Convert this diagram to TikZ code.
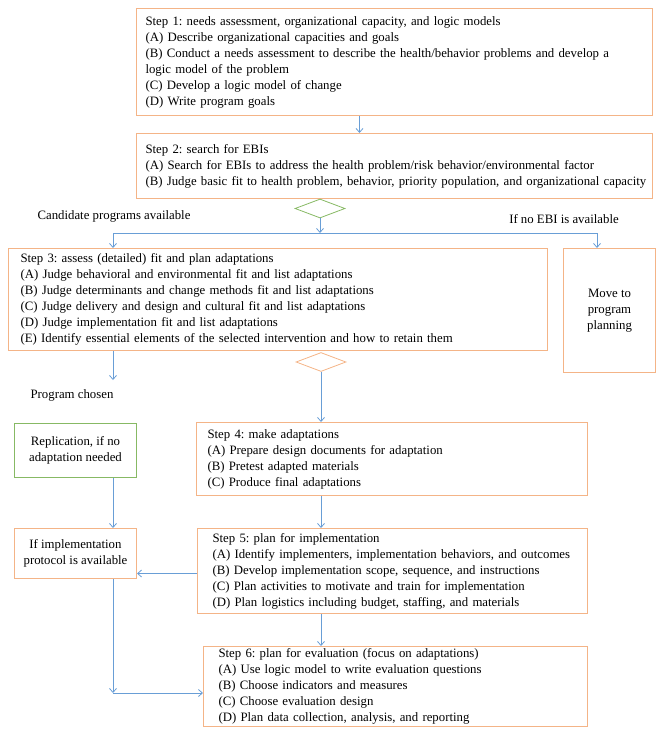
\documentclass[tikz,border=0pt]{standalone}
\usepackage{xcolor}
\usepackage{fontspec}
\setmainfont{Liberation Serif}
\frenchspacing
\usepackage{tikz}
\usetikzlibrary{shapes.geometric, arrows.meta, positioning}

\definecolor{boxorange}{RGB}{244,180,135}
\definecolor{boxgreen}{RGB}{135,185,100}
\definecolor{linkblue}{RGB}{105,158,214}

\begin{document}
\begin{tikzpicture}[x=1pt, y=-1pt,
            box/.style={draw=boxorange, line width=1pt, rectangle, anchor=north west, align=left, inner xsep=9pt, inner ysep=0pt, font=\fontsize{12.8}{16}\selectfont},
            sidebox/.style={draw=boxorange, line width=1pt, rectangle, anchor=north west, align=center, inner sep=0pt, font=\fontsize{12.8}{16}\selectfont},
            decision/.style={diamond, draw, line width=0.8pt, minimum width=50pt, minimum height=19pt, inner sep=0pt},
            note/.style={font=\fontsize{12.8}{16}\selectfont, inner sep=0pt},
            link/.style={draw=linkblue, line width=0.8pt},
            arrow/.style={link, -{Straight Barb[length=4pt, width=7pt]}}]

            \useasboundingbox (0,0) rectangle (661,735);

            \node[box, text width=498pt, minimum height=107pt] (step1) at (136,8) {Step 1: needs assessment, organizational capacity, and logic models\\(A) Describe organizational capacities and goals\\(B) Conduct a needs assessment to describe the health/behavior problems and develop a\\logic model of the problem\\(C) Develop a logic model of change\\(D) Write program goals};
            \node[box, text width=498pt, minimum height=65pt] (step2) at (136,133) {Step 2: search for EBIs\\(A) Search for EBIs to address the health problem/risk behavior/environmental factor\\\mbox{(B) Judge basic fit to health problem, behavior, priority population, and organizational capacity}};
            \node[decision, draw=boxgreen] (choice1) at (320,208.5) {};
            \node[note] (candidates) at (114,216) {Candidate programs available};
            \node[note] (noebi) at (564,219) {If no EBI is available};

            \node[box, inner xsep=12pt, text width=515pt, minimum height=102pt] (step3) at (8,248) {Step 3: assess (detailed) fit and plan adaptations\\(A) Judge behavioral and environmental fit and list adaptations\\(B) Judge determinants and change methods fit and list adaptations\\(C) Judge delivery and design and cultural fit and list adaptations\\(D) Judge implementation fit and list adaptations\\(E) Identify essential elements of the selected intervention and how to retain them};
            \node[sidebox, minimum width=92pt, minimum height=124pt] (movebox) at (563,248) {Move to\\program\\planning};
            \node[decision, draw=boxorange] (choice2) at (321,362) {};
            \node[note] (chosen) at (72,395) {Program chosen};

            \node[sidebox, draw=boxgreen, minimum width=122pt, minimum height=54pt] (replbox) at (14,423) {Replication, if no\\adaptation needed};
            \node[box, inner xsep=11pt, text width=369pt, minimum height=73pt] (step4) at (196,422) {Step 4: make adaptations\\(A) Prepare design documents for adaptation\\(B) Pretest adapted materials\\(C) Produce final adaptations};

            \node[sidebox, minimum width=122pt, minimum height=50pt] (implbox) at (14,528) {If implementation\\protocol is available};
            \node[box, inner xsep=15pt, text width=360pt, minimum height=85pt] (step5) at (197,528) {Step 5: plan for implementation\\(A) Identify implementers, implementation behaviors, and outcomes\\(B) Develop implementation scope, sequence, and instructions\\(C) Plan activities to motivate and train for implementation\\(D) Plan logistics including budget, staffing, and materials};
            \node[box, inner xsep=15pt, text width=354pt, minimum height=80pt] (step6) at (203,646) {Step 6: plan for evaluation (focus on adaptations)\\(A) Use logic model to write evaluation questions\\(B) Choose indicators and measures\\(C) Choose evaluation design\\(D) Plan data collection, analysis, and reporting};

            \coordinate (leftdrop) at (113,233);
            \coordinate (rightdrop) at (597,233);
            \coordinate (chosenend) at (113,380);
            \coordinate (feedback) at ([yshift=-20pt]implbox.east);
            \coordinate (corner) at (113,693);

            \draw[arrow] ([xshift=-35pt]step1.south) -- ([xshift=-35pt]step2.north);
            \draw[arrow] (choice1.south) -- (choice1 |- leftdrop);
            \draw[link] (leftdrop) -- (rightdrop);
            \draw[arrow] (leftdrop) -- (leftdrop |- step3.north);
            \draw[arrow] (rightdrop) -- (rightdrop |- movebox.north);
            \draw[arrow] (leftdrop |- step3.south) -- (chosenend);
            \draw[arrow] (choice2.south) -- (choice2 |- step4.north);
            \draw[arrow] (leftdrop |- replbox.south) -- (leftdrop |- implbox.north);
            \draw[arrow] (choice2 |- step4.south) -- (choice2 |- step5.north);
            \draw[arrow] (step5.west |- feedback) -- (feedback);
            \draw[arrow] (choice2 |- step5.south) -- (choice2 |- step6.north);
            \draw[arrow] (leftdrop |- implbox.south) -- (corner);
            \draw[arrow] (corner) -- (corner -| step6.west);
        \end{tikzpicture}
\end{document}
